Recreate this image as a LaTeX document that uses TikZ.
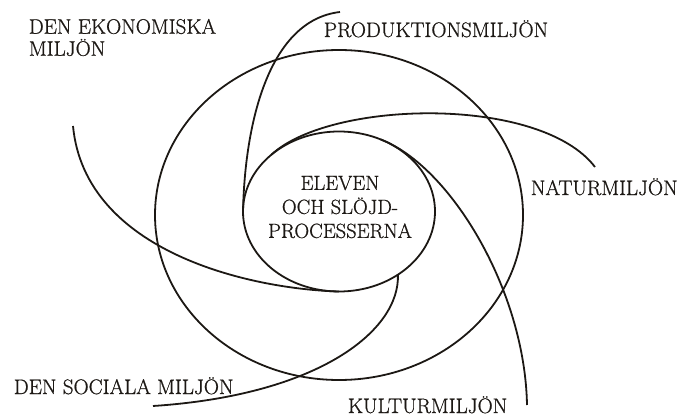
\documentclass[tikz,border=0pt]{standalone}
\usepackage{fontspec}
\usepackage{tikz}
\usetikzlibrary{shapes.geometric}
\newfontfamily\lblfont{Latin Modern Roman}[FakeBold=0.8]
\definecolor{ink}{HTML}{1C1814}

\begin{document}
\begin{tikzpicture}[x=1pt, y=-1pt, line width=1.8pt,
      ring/.style={draw=ink, ellipse, inner sep=0pt, outer sep=0pt},
      lbl/.style={font=\lblfont\fontsize{21}{22}\selectfont, inner sep=0pt, text=ink}]
      \useasboundingbox (0, 0) rectangle (683, 417);
      \node [ring, minimum width=368pt, minimum height=330pt] (outer) at (339, 215) {};
      \node [ring, minimum width=192pt, minimum height=160pt] (inner) at (339, 211.5) {};
      \node [lbl, anchor=north, align=center, font=\lblfont\fontsize{20.5}{24}\selectfont] (elev) at (340, 175)
            {ELEVEN\\OCH SLÖJD-\\PROCESSERNA};
      \node [lbl, anchor=north west, align=left] (eko) at (28, 18) {DEN EKONOMISKA\\MILJÖN};
      \node [lbl, anchor=base west] (prod) at (323, 37) {PRODUKTIONSMILJÖN};
      \node [lbl, anchor=base west] (natur) at (530, 195) {NATURMILJÖN};
      \node [lbl, anchor=base west] (kultur) at (347, 413) {KULTURMILJÖN};
      \node [lbl, anchor=base west] (social) at (13, 394) {DEN SOCIALA MILJÖN};
      \coordinate (ekoend) at (73, 126);
      \coordinate (prodend) at (340, 12);
      \coordinate (naturend) at (595, 167);
      \coordinate (kulturend) at (527, 405);
      \coordinate (socialend) at (153, 406);
      \draw [ink] (inner.270) .. controls (250, 289) and (85, 252) .. (ekoend)
            (inner.west) .. controls (245, 120) and (270, 20) .. (prodend)
            (inner.140) .. controls (330, 100) and (540, 95) .. (naturend)
            (inner.60) .. controls (450, 166) and (525, 290) .. (kulturend)
            (inner.313) .. controls (400, 330) and (320, 395) .. (socialend);
\end{tikzpicture}
\end{document}
